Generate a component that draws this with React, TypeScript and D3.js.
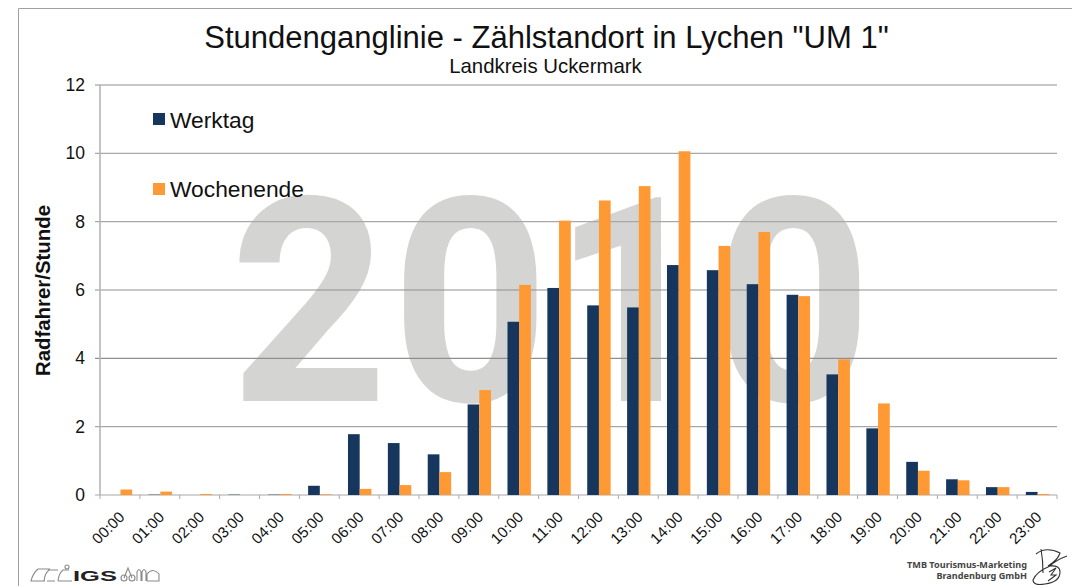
import React from "react";
import * as d3 from "d3";

const hours = ["00:00","01:00","02:00","03:00","04:00","05:00","06:00","07:00","08:00","09:00","10:00","11:00","12:00","13:00","14:00","15:00","16:00","17:00","18:00","19:00","20:00","21:00","22:00","23:00"];
const werktag = [0,0.01,0,0.01,0.01,0.27,1.78,1.52,1.19,2.65,5.07,6.06,5.55,5.49,6.73,6.58,6.17,5.86,3.53,1.95,0.97,0.46,0.23,0.09];
const wochenende = [0.16,0.1,0.03,0,0.03,0.02,0.18,0.29,0.67,3.07,6.15,8.03,8.62,9.04,10.06,7.29,7.7,5.82,3.97,2.68,0.71,0.43,0.23,0.03];
const yTicks = [0,2,4,6,8,10,12];
const seriesNames = ["Werktag","Wochenende"];
const seriesColors = ["#17365d","#ff9933"];

const font = "'Liberation Sans', Arial, sans-serif";
const x0 = d3.scaleBand<string>().domain(hours).range([100.5,1057.5]).paddingInner(0.413).paddingOuter(0.2065);
const x1 = d3.scaleBand<string>().domain(seriesNames).range([0,x0.bandwidth()]);
const y = d3.scaleLinear().domain([0,12]).range([495,85]);
const step = x0.step();
const tickXs = d3.range(25).map(i => 100 + i*step);

export default function App() {
  const data = [werktag, wochenende];
  return (
    <svg width={1072} height={586} style={{position:"fixed",left:0,top:0,background:"#fff",fontFamily:font}}>
      <path d="M18.5 586V8.5H1072" fill="none" stroke="#a0a0a0" strokeWidth={1}/>
      <text transform="translate(231,400) scale(0.93,0.97)" fontSize={292} fontWeight={700} fontFamily="Roboto" letterSpacing={6} fill="#d4d5d3" stroke="#d4d5d3" strokeWidth={2}>2010</text>
      {yTicks.map(t => (
        <g key={t}>
          <line x1={95} x2={1057} y1={y(t)} y2={y(t)} stroke={t===12||t===6||t===4?"#8f8f8f":"#a8a8a8"} strokeWidth={1.2}/>
          <text x={85} y={y(t)+6} textAnchor="end" fontSize={17.5} fill="#111">{t}</text>
        </g>
      ))}
      <line x1={100} x2={100} y1={85} y2={495} stroke="#b5b5b5" strokeWidth={1.6}/>
      {tickXs.map((tx,i) => <line key={i} x1={tx} x2={tx} y1={495} y2={499} stroke="#aaa" strokeWidth={1}/>)}
      {seriesNames.map((s,si) => data[si].map((v,i) => (
        <rect key={s+i} x={(x0(hours[i]) as number)+(x1(s) as number)} y={y(v)} width={x1.bandwidth()} height={495-y(v)} fill={seriesColors[si]}/>
      )))}
      {hours.map(h => {
        const cx = (x0(h) as number)+x0.bandwidth()/2;
        return <text key={h} transform={`translate(${cx+5},${518}) rotate(-45)`} textAnchor="end" fontSize={15.3} fill="#111">{h}</text>;
      })}
      <text x={546.5} y={48} textAnchor="middle" fontSize={31} fill="#111">Stundenganglinie - Zählstandort in Lychen "UM 1"</text>
      <text x={545.5} y={73} textAnchor="middle" fontSize={20.4} fill="#111">Landkreis Uckermark</text>
      <text transform="translate(50,290.5) rotate(-90)" textAnchor="middle" fontSize={20.4} fontWeight={700} fill="#111">Radfahrer/Stunde</text>
      {seriesNames.map((s,i) => (
        <g key={s}>
          <rect x={153} y={113+i*70} width={12} height={12} fill={seriesColors[i]}/>
          <text x={170} y={128+i*69} fontSize={22.8} fill="#111">{s}</text>
        </g>
      ))}
      <g fill="none" stroke="#8a8a8a" strokeWidth={1.1}>
        <path d="M50 569H38Q33 573 31 581H45M44 581Q45 573 49 570H58M55 581H47M58 581Q59 573 63 570H69M58 581H72"/>
        <circle cx={67} cy={567} r={2}/>
        <circle cx={124} cy={578} r={3}/><circle cx={132} cy={578} r={3}/>
        <path d="M124 578L128 568L132 578M137 581V572Q139 567 141 572V581M142 581V572Q144 567 146 572V581M147 581V574Q153 567 159 574V581H147"/>
      </g>
      <text x={73} y={581} fontSize={15.5} fontWeight={700} fill="#222" textLength={44} lengthAdjust="spacingAndGlyphs">IGS</text>
      <text x={1027} y={568} textAnchor="end" fontSize={9.15} fontWeight={700} fontFamily="'Noto Sans'" fill="#444">TMB Tourismus-Marketing</text>
      <text x={1027} y={579} textAnchor="end" fontSize={9.15} fontWeight={700} fontFamily="'Noto Sans'" fill="#444">Brandenburg GmbH</text>
      <g fill="none" stroke="#333" strokeWidth={1.1}>
        <path d="M1041 549Q1043 560 1043 573M1036 554Q1046 546 1060 553Q1058 560 1048 566M1067 556Q1056 560 1050 566Q1036 572 1033 580Q1033 586 1045 584Q1060 582 1060 572Q1060 565 1050 566M1049 572L1056 568L1051 575L1056 575L1048 581"/>
      </g>
    </svg>
  );
}
